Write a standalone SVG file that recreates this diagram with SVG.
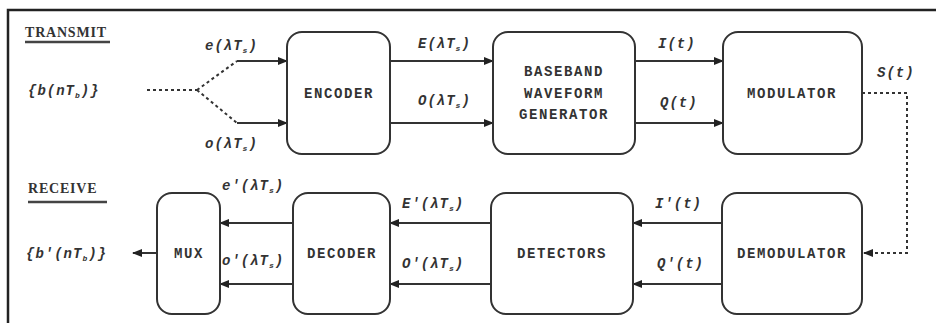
<svg xmlns="http://www.w3.org/2000/svg" width="936" height="323" viewBox="0 0 936 323">
<style>
.box{fill:#fff;stroke:#333;stroke-width:2}
.ln{fill:none;stroke:#333;stroke-width:2}
.dot{fill:none;stroke:#333;stroke-width:2;stroke-dasharray:3,3}
.t{font-family:"Liberation Mono",monospace;font-weight:bold;font-size:14px;fill:#333;text-anchor:middle;letter-spacing:1.6px}
.l{font-family:"Liberation Mono",monospace;font-weight:bold;font-style:italic;font-size:14px;fill:#333;letter-spacing:1px}
.s{font-size:8px}
.h{font-family:"Liberation Serif",serif;font-weight:bold;font-size:14px;fill:#333;letter-spacing:0.8px}
</style>
<defs>
<marker id="ah" markerWidth="10" markerHeight="8" refX="9" refY="4" orient="auto" markerUnits="userSpaceOnUse">
<path d="M0,0 L10,4 L0,8 z" fill="#222"/>
</marker>
</defs>
<rect width="936" height="323" fill="#fff"/>
<path d="M8,323 L8,10 L936,10" fill="none" stroke="#222" stroke-width="2.5"/>
<g id="headings">
<text class="h" x="25" y="37">TRANSMIT</text>
<line x1="25" y1="42" x2="110" y2="42" stroke="#444" stroke-width="2.5"/>
<text class="h" x="28" y="193">RECEIVE</text>
<line x1="28" y1="202" x2="107" y2="202" stroke="#444" stroke-width="2.5"/>
</g>
<g id="connectors">
<path class="dot" d="M147,90 L197,90 M197,90 L237,61 M197,90 L237,123"/>
<line class="ln" x1="237" y1="61" x2="287" y2="61" marker-end="url(#ah)"/>
<line class="ln" x1="237" y1="123" x2="287" y2="123" marker-end="url(#ah)"/>
<line class="ln" x1="390" y1="61" x2="493" y2="61" marker-end="url(#ah)"/>
<line class="ln" x1="390" y1="123" x2="493" y2="123" marker-end="url(#ah)"/>
<line class="ln" x1="635" y1="61" x2="723" y2="61" marker-end="url(#ah)"/>
<line class="ln" x1="635" y1="123" x2="723" y2="123" marker-end="url(#ah)"/>
<path class="dot" d="M862,93 L907,93 L907,253 L864,253" marker-end="url(#ah)"/>
<line class="ln" x1="722" y1="223" x2="633" y2="223" marker-end="url(#ah)"/>
<line class="ln" x1="722" y1="284" x2="633" y2="284" marker-end="url(#ah)"/>
<line class="ln" x1="491" y1="223" x2="390" y2="223" marker-end="url(#ah)"/>
<line class="ln" x1="491" y1="284" x2="390" y2="284" marker-end="url(#ah)"/>
<line class="ln" x1="293" y1="223" x2="220" y2="223" marker-end="url(#ah)"/>
<line class="ln" x1="293" y1="284" x2="220" y2="284" marker-end="url(#ah)"/>
<line class="ln" x1="157" y1="253" x2="133" y2="253" marker-end="url(#ah)"/>
</g>
<g id="labels">
<text class="l" x="28" y="95">{b(nT<tspan class="s" dy="3">b</tspan><tspan dy="-3">)}</tspan></text>
<text class="l" x="205" y="50">e(λT<tspan class="s" dy="3">s</tspan><tspan dy="-3">)</tspan></text>
<text class="l" x="205" y="148">o(λT<tspan class="s" dy="3">s</tspan><tspan dy="-3">)</tspan></text>
<text class="l" x="418" y="48">E(λT<tspan class="s" dy="3">s</tspan><tspan dy="-3">)</tspan></text>
<text class="l" x="418" y="105">O(λT<tspan class="s" dy="3">s</tspan><tspan dy="-3">)</tspan></text>
<text class="l" x="658" y="48">I(t)</text>
<text class="l" x="660" y="107">Q(t)</text>
<text class="l" x="877" y="77">S(t)</text>
<text class="l" x="222" y="190">e'(λT<tspan class="s" dy="3">s</tspan><tspan dy="-3">)</tspan></text>
<text class="l" x="222" y="265">o'(λT<tspan class="s" dy="3">s</tspan><tspan dy="-3">)</tspan></text>
<text class="l" x="402" y="208">E'(λT<tspan class="s" dy="3">s</tspan><tspan dy="-3">)</tspan></text>
<text class="l" x="402" y="268">O'(λT<tspan class="s" dy="3">s</tspan><tspan dy="-3">)</tspan></text>
<text class="l" x="655" y="208">I'(t)</text>
<text class="l" x="657" y="268">Q'(t)</text>
<text class="l" x="26" y="258">{b'(nT<tspan class="s" dy="3">b</tspan><tspan dy="-3">)}</tspan></text>
</g>
<g id="encoder"><rect class="box" x="287" y="32" width="103" height="122" rx="15"/><text class="t" x="339" y="98">ENCODER</text></g>
<g id="baseband"><rect class="box" x="493" y="32" width="142" height="122" rx="15"/><text class="t" x="564" y="76">BASEBAND</text><text class="t" x="564" y="98">WAVEFORM</text><text class="t" x="564" y="119">GENERATOR</text></g>
<g id="modulator"><rect class="box" x="723" y="32" width="139" height="122" rx="15"/><text class="t" x="792" y="98">MODULATOR</text></g>
<g id="mux"><rect class="box" x="157" y="193" width="63" height="121" rx="15"/><text class="t" x="189" y="258">MUX</text></g>
<g id="decoder"><rect class="box" x="293" y="193" width="97" height="121" rx="15"/><text class="t" x="342" y="258">DECODER</text></g>
<g id="detectors"><rect class="box" x="491" y="193" width="142" height="121" rx="15"/><text class="t" x="562" y="258">DETECTORS</text></g>
<g id="demodulator"><rect class="box" x="722" y="193" width="140" height="121" rx="15"/><text class="t" x="792" y="258">DEMODULATOR</text></g>
</svg>
